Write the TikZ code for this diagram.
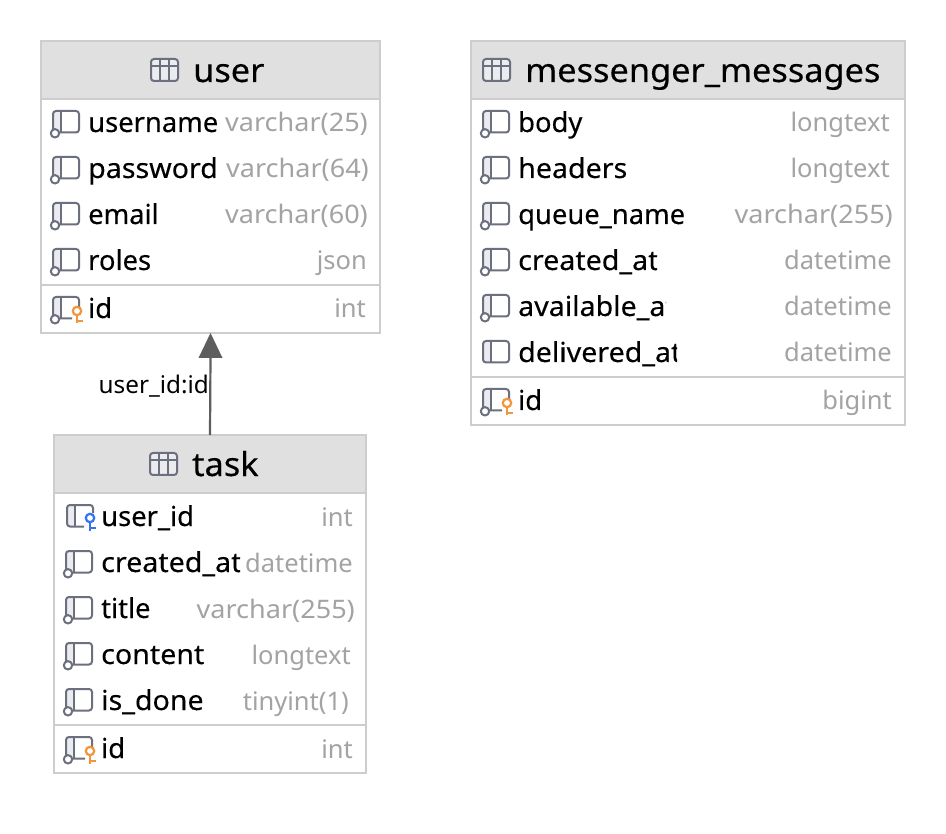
\documentclass[tikz,border=0pt]{standalone}
\usepackage{fontspec}
\setmainfont{Noto Sans}
\newfontfamily\colfont[FakeStretch=0.995,FakeBold=0.25]{Noto Sans}
\newfontfamily\colwide[FakeStretch=1.04,FakeBold=0.25]{Noto Sans}
\newfontfamily\titlefont[FakeStretch=1.04,FakeBold=0.3]{Noto Sans}
\newfontfamily\typefont[FakeStretch=1.06]{Noto Sans}
\newfontfamily\typenarrow[FakeStretch=1.0]{Noto Sans}
\definecolor{iconc}{HTML}{6C707E}
\definecolor{iconf}{HTML}{EBECF0}
\definecolor{hdr}{HTML}{E0E0E0}
\definecolor{edgec}{HTML}{CDCDCD}
\definecolor{typec}{HTML}{A3A3A3}
\definecolor{pkc}{HTML}{F2953C}
\definecolor{fkc}{HTML}{3574F0}
\definecolor{arrowc}{HTML}{5E5E5E}
\tikzset{
  x=1pt,y=-1pt,
  tablebox/.style={draw=edgec,line width=1.2pt,fill=white,anchor=north west,inner sep=0pt,outer sep=0pt},
  headbox/.style={draw=edgec,line width=1.2pt,fill=hdr,anchor=north west,inner sep=0pt,outer sep=0pt},
  sepline/.style={draw=edgec,line width=1.6pt},
  colname/.style={anchor=base west,inner sep=0pt,text=black,font=\colfont\fontsize{27.5}{30}\selectfont},
  colnamew/.style={colname,font=\colwide\fontsize{27.5}{30}\selectfont},
  coltype/.style={anchor=base east,inner sep=0pt,text=typec,font=\typefont\fontsize{25.5}{30}\selectfont},
  coltypen/.style={coltype,font=\typenarrow\fontsize{25.5}{30}\selectfont},
  title/.style={anchor=base west,inner sep=0pt,text=black,font=\titlefont\fontsize{33}{36}\selectfont},
  iconline/.style={draw=iconc,line width=2pt,line join=round},
  rellabel/.style={anchor=base east,inner sep=0pt,text=black,font=\fontsize{24.3}{26}\selectfont},
  relline/.style={draw=arrowc,line width=2.2pt},
}
\newcommand{\iconN}[2]{\begin{scope}[shift={(#1,#2)}]
  \fill[iconf,rounded corners=3pt] (1,0) rectangle (9,21.5);
  \draw[iconline,rounded corners=3pt](1,0) rectangle (27,21.5);
  \draw[iconline](9,0) -- (9,21.5);
  \draw[iconline,fill=white](3,22.3) circle (4.2);
\end{scope}}
\newcommand{\iconP}[2]{\begin{scope}[shift={(#1,#2)}]
  \fill[iconf,rounded corners=3pt] (1,0) rectangle (9,21.5);
  \draw[iconline,rounded corners=3pt](1,0) rectangle (27,21.5);
  \draw[iconline](9,0) -- (9,21.5);
\end{scope}}
\newcommand{\keymark}[3]{\begin{scope}[shift={(#1,#2)}]
  \draw[draw=#3,line width=2.2pt,fill=white](0,0) circle (4.2);
  \draw[draw=#3,line width=2.2pt](0,4.2) -- (0,12.5) (0,9.7) -- (5.7,9.7);
\end{scope}}
\newcommand{\iconK}[2]{\begin{scope}[shift={(#1,#2)}]
  \fill[iconf,rounded corners=3pt] (1,0) rectangle (9,21.5);
  \draw[iconline,rounded corners=3pt](20,21.5) -- (1,21.5) -- (1,0) -- (27,0) -- (27,10);
  \draw[iconline](9,0) -- (9,21.5);
  \draw[iconline,fill=white](3,22.3) circle (4.2);
\end{scope}\keymark{#1+25}{#2+14}{pkc}}
\newcommand{\iconF}[2]{\begin{scope}[shift={(#1,#2)}]
  \fill[iconf,rounded corners=3pt] (1,0) rectangle (9,21.5);
  \draw[iconline,rounded corners=3pt](18,21.5) -- (1,21.5) -- (1,0) -- (27,0) -- (27,8);
  \draw[iconline](9,0) -- (9,21.5);
\end{scope}\keymark{#1+24}{#2+13}{fkc}}
\newcommand{\iconT}[2]{\begin{scope}[shift={(#1,#2)}]
  \draw[iconline,fill=iconf,rounded corners=3pt](0,0) rectangle (27,22);
  \draw[iconline](0,7) -- (27,7) (9,0) -- (9,22) (18,0) -- (18,22);
\end{scope}}
\begin{document}
\begin{tikzpicture}
\useasboundingbox (0,0) rectangle (946,834);
\fill[white] (0,0) rectangle (946,834);
% ---- user
\node[tablebox,minimum width=339pt,minimum height=292pt] (user) at (41,41) {};
\node[headbox,minimum width=339pt,minimum height=58pt] (userhead) at (41,41) {};
\draw[sepline] (41,285) -- (380,285);
\iconT{151}{59}
\node[title] (usert) at (193,82) {user};
\iconN{52}{111}\node[colname] (u1) at (88,132) {username};\node[coltype] (u1t) at (368,132) {varchar(25)};
\iconN{52}{157}\node[colnamew] (u2) at (88,178) {password};\node[coltype] (u2t) at (369,178) {varchar(64)};
\iconN{52}{203}\node[colname] (u3) at (88,224) {email};\node[coltype] (u3t) at (368,224) {varchar(60)};
\iconN{52}{249}\node[colname] (u4) at (88,270) {roles};\node[coltypen] (u4t) at (367,270) {json};
\iconK{52}{297}\node[colname] (u5) at (88,318) {id};\node[coltypen] (u5t) at (366,318) {int};
% ---- messenger_messages
\node[tablebox,minimum width=434pt,minimum height=384pt] (msg) at (471,41) {};
\node[headbox,minimum width=434pt,minimum height=58pt] (msghead) at (471,41) {};
\draw[sepline] (471,377) -- (905,377);
\iconT{483}{59}
\node[title] (msgt) at (525,82) {messenger\_messages};
\iconN{482}{111}\node[colname] (m1) at (518,132) {body};\node[coltypen] (m1t) at (890,132) {longtext};
\iconN{482}{157}\node[colnamew] (m2) at (518,178) {headers};\node[coltypen] (m2t) at (890,178) {longtext};
\iconN{482}{203}\node[colname] (m3) at (518,224) {queue\_name};\node[coltype] (m3t) at (893,224) {varchar(255)};
\iconN{482}{249}
\begin{scope}
\clip (510,240) rectangle (657,280);
\node[colnamew] (m4) at (518,270) {created\_at};
\end{scope}
\node[coltypen] (m4t) at (892,270) {datetime};
\iconN{482}{295}
\begin{scope}
\clip (510,286) rectangle (666,326);
\node[colnamew] (m5) at (518,316) {available\_at};
\end{scope}
\node[coltypen] (m5t) at (892,316) {datetime};
\iconP{482}{341}
\begin{scope}
\clip (510,332) rectangle (677,372);
\node[colnamew] (m6) at (518,362) {delivered\_at};
\end{scope}
\node[coltypen] (m6t) at (892,362) {datetime};
\iconK{482}{389}\node[colname] (m7) at (518,410) {id};\node[coltypen] (m7t) at (892,410) {bigint};
% ---- task
\node[tablebox,minimum width=312pt,minimum height=338pt] (task) at (54,435) {};
\node[headbox,minimum width=312pt,minimum height=58pt] (taskhead) at (54,435) {};
\draw[sepline] (54,725) -- (366,725);
\iconT{150}{453}
\node[title] (taskt) at (192,476) {task};
\iconF{66}{505}\node[colname] (t1) at (101,526) {user\_id};\node[coltypen] (t1t) at (353,526) {int};
\iconN{65}{551}
\begin{scope}
\clip (95,542) rectangle (240,582);
\node[colnamew] (t2) at (101,572) {created\_at};
\end{scope}
\node[coltypen] (t2t) at (353,572) {datetime};
\iconN{65}{597}\node[colname] (t3) at (101,618) {title};\node[coltype] (t3t) at (355,618) {varchar(255)};
\iconN{65}{643}\node[colnamew] (t4) at (101,664) {content};\node[coltypen] (t4t) at (351,664) {longtext};
\iconN{65}{689}\node[colnamew] (t5) at (101,710) {is\_done};\node[coltypen] (t5t) at (349,710) {tinyint(1)};
\iconK{65}{737}\node[colname] (t6) at (101,758) {id};\node[coltypen] (t6t) at (353,758) {int};
% ---- relation
\draw[relline] (task.north) -- ([yshift=-24pt]user.south);
\fill[arrowc] (user.south) -- ++(-12,25) -- ++(24,0) -- cycle;
\node[rellabel] (rel) at (209,394) {user\_id:id};
\end{tikzpicture}
\end{document}
